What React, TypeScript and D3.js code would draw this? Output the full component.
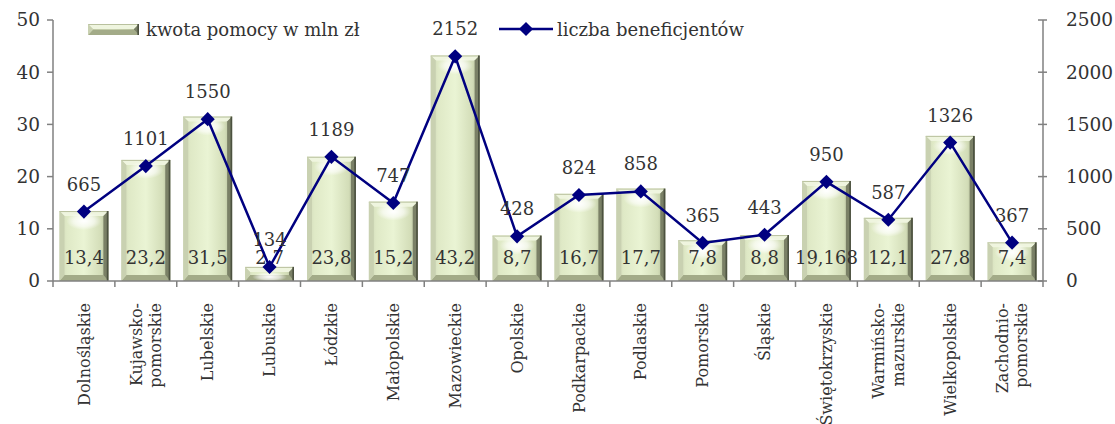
import React from "react";
import * as d3 from "d3";

const regions = [
  "Dolnośląskie", "Kujawsko-\npomorskie", "Lubelskie", "Lubuskie", "Łódzkie",
  "Małopolskie", "Mazowieckie", "Opolskie", "Podkarpackie", "Podlaskie",
  "Pomorskie", "Śląskie", "Świętokrzyskie", "Warmińsko-\nmazurskie",
  "Wielkopolskie", "Zachodnio-\npomorskie",
];
const kwota = [13.4, 23.2, 31.5, 2.7, 23.8, 15.2, 43.2, 8.7, 16.7, 17.7, 7.8, 8.8, 19.168, 12.1, 27.8, 7.4];
const kwotaLabels = ["13,4", "23,2", "31,5", "2,7", "23,8", "15,2", "43,2", "8,7", "16,7", "17,7", "7,8", "8,8", "19,168", "12,1", "27,8", "7,4"];
const beneficjenci = [665, 1101, 1550, 134, 1189, 747, 2152, 428, 824, 858, 365, 443, 950, 587, 1326, 367];
const leftTicks = [0, 10, 20, 30, 40, 50];
const rightTicks = [0, 500, 1000, 1500, 2000, 2500];

const FONT = "'DejaVu Serif', serif";
const TXT = "#333333";

function Bar({ x, y, w, h }: { x: number; y: number; w: number; h: number }) {
  const b = Math.min(5, h / 2, w / 2);
  const bb = Math.min(6, h / 2);
  return (
    <g>
      <rect x={x} y={y} width={w} height={h} fill="url(#barGrad)" />
      <polygon points={`${x},${y} ${x + w},${y} ${x + w - b},${y + b} ${x + b},${y + b}`} fill="#eff5df" />
      <line x1={x} x2={x + w} y1={y + 0.5} y2={y + 0.5} stroke="#b9c19e" strokeWidth={1} />
      <polygon points={`${x},${y + h} ${x + w},${y + h} ${x + w - b},${y + h - bb} ${x + b},${y + h - bb}`} fill="#a3ab88" />
      <polygon points={`${x},${y} ${x + b},${y + b} ${x + b},${y + h - bb} ${x},${y + h}`} fill="#c9d1b1" />
      <polygon points={`${x + w},${y} ${x + w - b},${y + b} ${x + w - b},${y + h - bb} ${x + w},${y + h}`} fill="#7a8066" />
      <line x1={x + w - 0.8} x2={x + w - 0.8} y1={y} y2={y + h} stroke="#4c5140" strokeWidth={1.6} />
      {h > 14 && (
        <ellipse cx={x + w / 2} cy={y + b + 5} rx={w / 2 - b - 2} ry={Math.min(9, h / 3)} fill="url(#glow)" />
      )}
    </g>
  );
}

export default function App() {
  const width = 1115, height = 424;
  const left = 53, right = 1043, top = 20, bottom = 281;

  const x = d3.scaleBand<number>().domain(d3.range(regions.length)).range([left, right]).paddingInner(0.21).paddingOuter(0.105);
  const step = (right - left) / regions.length;
  const yL = d3.scaleLinear().domain([0, 50]).range([bottom, top]);
  const yR = d3.scaleLinear().domain([0, 2500]).range([bottom, top]);

  const line = d3.line<number>().x((_, i) => x(i)! + x.bandwidth() / 2).y((d) => yR(d));
  const diamond = d3.symbol().type(d3.symbolSquare).size(100)();

  return (
    <svg width={width} height={height} style={{ position: "absolute", left: 0, top: 0, background: "#fff" }}>
      <defs>
        <linearGradient id="barGrad" x1="0" x2="1" y1="0" y2="0">
          <stop offset="0" stopColor="#cdd5b5" />
          <stop offset="0.15" stopColor="#dfe9c6" />
          <stop offset="0.5" stopColor="#eaf4d4" />
          <stop offset="0.85" stopColor="#d3ddb8" />
          <stop offset="1" stopColor="#a9b290" />
        </linearGradient>
        <radialGradient id="glow">
          <stop offset="0" stopColor="#ffffff" stopOpacity={1} />
          <stop offset="0.6" stopColor="#ffffff" stopOpacity={0.6} />
          <stop offset="1" stopColor="#ffffff" stopOpacity={0} />
        </radialGradient>
      </defs>

      {/* left axis */}
      <line x1={left} x2={left} y1={top} y2={bottom} stroke="#808080" strokeWidth={1.5} />
      {leftTicks.map((t) => (
        <g key={t}>
          <line x1={left - 6} x2={left} y1={yL(t)} y2={yL(t)} stroke="#808080" strokeWidth={1.5} />
          <text x={40} y={yL(t)} dy="0.35em" textAnchor="end" fontFamily={FONT} fontSize={18.5} fill={TXT}>{t}</text>
        </g>
      ))}
      {/* right axis */}
      <line x1={right} x2={right} y1={top} y2={bottom} stroke="#808080" strokeWidth={1.5} />
      {rightTicks.map((t) => (
        <g key={t}>
          <line x1={right - 5} x2={right + 4} y1={yR(t)} y2={yR(t)} stroke="#808080" strokeWidth={1.5} />
          <text x={1066} y={yR(t)} dy="0.35em" textAnchor="start" fontFamily={FONT} fontSize={18.5} fill={TXT}>{t}</text>
        </g>
      ))}

      {/* bars */}
      {kwota.map((v, i) => (
        <Bar key={i} x={x(i)!} y={yL(v)} w={x.bandwidth()} h={bottom - yL(v)} />
      ))}

      {/* category axis */}
      <line x1={left} x2={right} y1={bottom} y2={bottom} stroke="#808080" strokeWidth={1.5} />
      {d3.range(regions.length + 1).map((i) => (
        <line key={i} x1={left + i * step} x2={left + i * step} y1={bottom} y2={bottom + 6} stroke="#808080" strokeWidth={1.5} />
      ))}

      {/* bar labels */}
      {kwotaLabels.map((l, i) => (
        <text key={i} x={x(i)! + x.bandwidth() / 2} y={264} textAnchor="middle" fontFamily={FONT} fontSize={18} fill={TXT}>{l}</text>
      ))}

      {/* line */}
      <path d={line(beneficjenci)!} fill="none" stroke="#000080" strokeWidth={2.5} />
      {beneficjenci.map((v, i) => (
        <path key={i} d={diamond!} transform={`translate(${x(i)! + x.bandwidth() / 2},${yR(v)}) rotate(45)`} fill="#000080" />
      ))}
      {beneficjenci.map((v, i) => (
        <text key={i} x={x(i)! + x.bandwidth() / 2} y={yR(v) - 21} textAnchor="middle" fontFamily={FONT} fontSize={18} fill={TXT}>{v}</text>
      ))}

      {/* category labels */}
      {regions.map((r, i) => {
        const parts = r.split("\n");
        const cx = x(i)! + x.bandwidth() / 2;
        return (
          <text key={i} transform={`translate(${cx},303) rotate(-90)`} textAnchor="end" fontFamily={FONT} fontSize={16} fill={TXT}>
            {parts.map((p, j) => (
              <tspan key={j} x={0} y={0} dy={parts.length === 1 ? "0.35em" : `${(j - 0.5) * 1.2 + 0.35}em`}>{p}</tspan>
            ))}
          </text>
        );
      })}

      {/* legend */}
      <g>
        <Bar x={88} y={24} w={51} h={11} />
        <text x={146} y={36} fontFamily={FONT} fontSize={18} fill={TXT}>kwota pomocy w mln zł</text>
        <line x1={499} x2={553} y1={29} y2={29} stroke="#000080" strokeWidth={2.5} />
        <path d={diamond!} transform="translate(526,29) rotate(45)" fill="#000080" />
        <text x={557} y={36} fontFamily={FONT} fontSize={18} fill={TXT}>liczba beneficjentów</text>
      </g>
    </svg>
  );
}
